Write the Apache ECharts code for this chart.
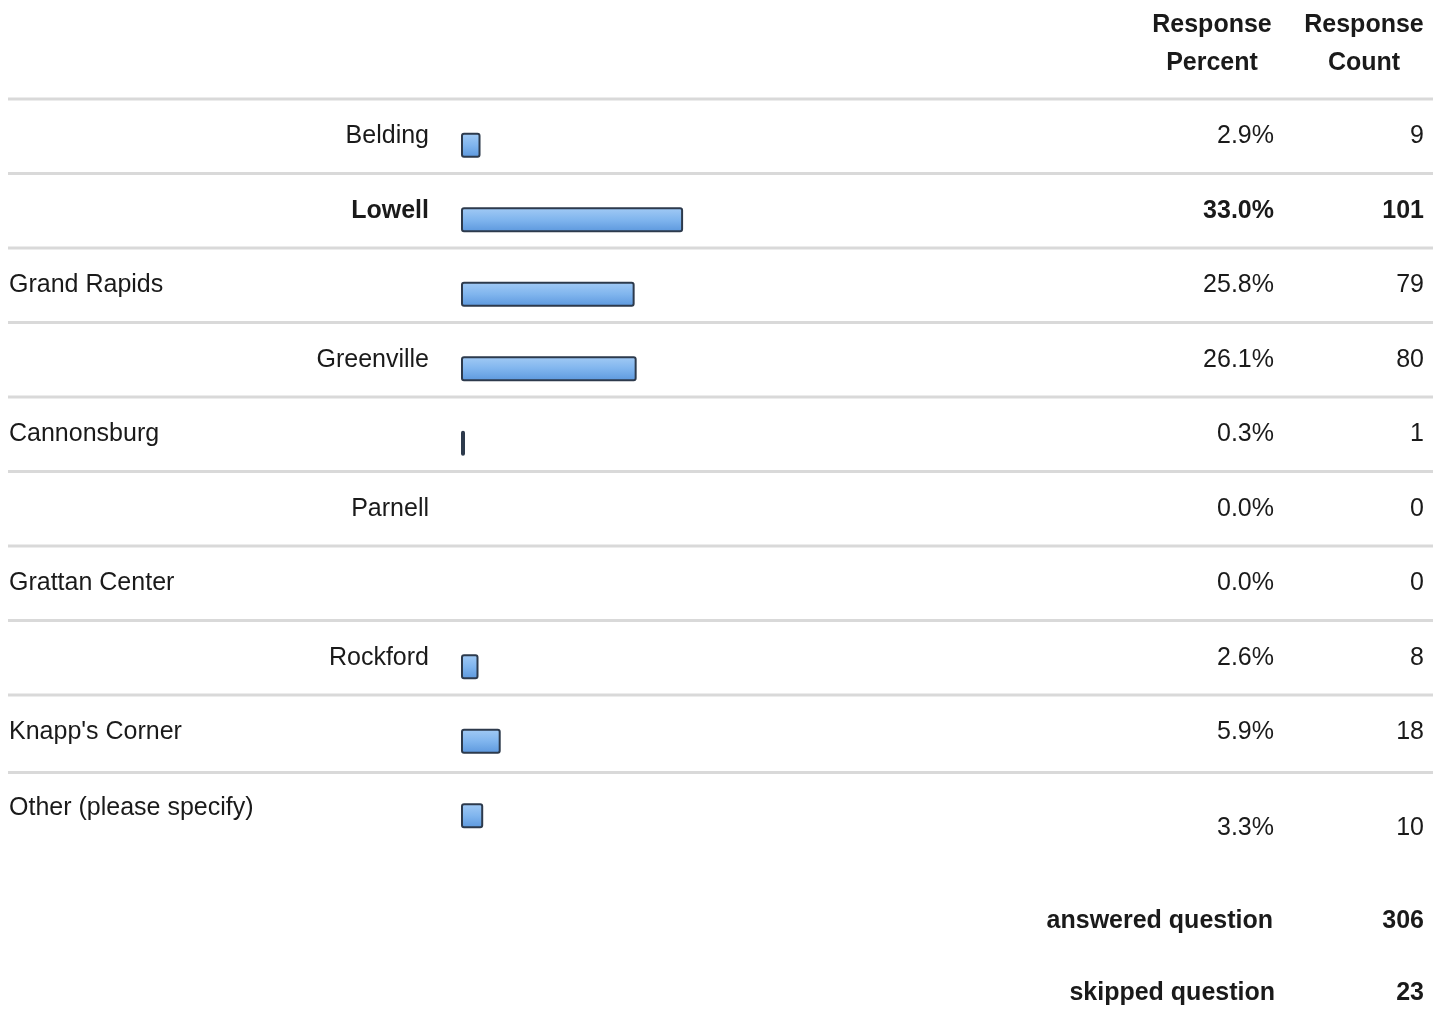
<!DOCTYPE html>
<html>
<head>
<meta charset="utf-8">
<script src="https://cdn.jsdelivr.net/npm/echarts@6/dist/echarts.min.js"></script>
<style>
  html, body { margin: 0; padding: 0; background: #ffffff; }
  #chart { width: 1443px; height: 1021px; }
</style>
</head>
<body>
<div id="chart"></div>
<script>
// ---- data ----
const categories = ['Belding', 'Lowell', 'Grand Rapids', 'Greenville', 'Cannonsburg',
  'Parnell', 'Grattan Center', 'Rockford', "Knapp's Corner", 'Other (please specify)'];
const percents = [2.9, 33.0, 25.8, 26.1, 0.3, 0.0, 0.0, 2.6, 5.9, 3.3];
const counts = [9, 101, 79, 80, 1, 0, 0, 8, 18, 10];
const headerPercent = ['Response', 'Percent'];
const headerCount = ['Response', 'Count'];
const answeredLabel = 'answered question';
const answeredCount = 306;
const skippedLabel = 'skipped question';
const skippedCount = 23;
const boldRow = 'Lowell';

// ---- layout / style (not data) ----
const labelAlign = ['right', 'right', 'left', 'right', 'left', 'right', 'left', 'right', 'left', 'left'];
const FONT_FAMILY = 'Liberation Sans';
const TEXT = '#1a1a1a';

const chart = echarts.init(document.getElementById('chart'), null, { renderer: 'canvas' });

const barData = percents.map(v => v === 0
  ? { value: v, itemStyle: { borderWidth: 0, opacity: 0 } }
  : v);

chart.setOption({
  backgroundColor: '#ffffff',
  animation: false,
  grid: { left: 461, width: 673, top: 108, height: 745 },
  xAxis: { type: 'value', min: 0, max: 100, show: false },
  yAxis: {
    type: 'category', data: categories, inverse: true,
    axisLine: { show: false }, axisTick: { show: false }, axisLabel: { show: false },
    splitLine: { show: false }
  },
  series: [{
    type: 'bar',
    data: barData,
    barWidth: 25,
    barMinHeight: 4,
    itemStyle: {
      color: new echarts.graphic.LinearGradient(0, 0, 0, 1, [
        { offset: 0, color: '#a3cbf5' },
        { offset: 0.5, color: '#80b5ee' },
        { offset: 1, color: '#5b97dd' }
      ]),
      borderColor: '#2d3a4c',
      borderWidth: 2,
      borderRadius: 2
    }
  }]
});

// ---- text & separators positioned from the category scale ----
const centers = categories.map(c => chart.convertToPixel({ yAxisIndex: 0 }, c));
const band = centers.length > 1 ? centers[1] - centers[0] : 74;
const half = band / 2;
const X_LEFT = 9, X_LABEL_R = 429, X_PCT = 1274, X_CNT = 1424;
const LINE_L = 8, LINE_R = 1433;

const elements = [];
function txt(s, x, y, align, bold) {
  elements.push({
    type: 'text', silent: true,
    style: {
      text: s, x: x, y: y, align: align, verticalAlign: 'middle',
      fontFamily: FONT_FAMILY, fontSize: 25, fontWeight: bold ? 'bold' : 'normal',
      fill: TEXT
    }
  });
}
function sep(y) {
  elements.push({
    type: 'line', silent: true,
    shape: { x1: LINE_L, y1: y, x2: LINE_R, y2: y },
    style: { stroke: '#d9d9d9', lineWidth: 3 }
  });
}

// header
const hCx1 = 1212, hCx2 = 1364;
const hTop = centers[0] - half - 11;
txt(headerPercent[0], hCx1, hTop - 72, 'center', true);
txt(headerPercent[1], hCx1, hTop - 34, 'center', true);
txt(headerCount[0], hCx2, hTop - 72, 'center', true);
txt(headerCount[1], hCx2, hTop - 34, 'center', true);

categories.forEach((c, i) => {
  const cy = centers[i];
  const last = i === categories.length - 1;
  sep(cy - half - (last ? 6 : 9));
  const bold = c === boldRow;
  const ly = last ? cy - 8 : cy - 9;
  const vy = last ? cy + 12 : cy - 9;
  if (labelAlign[i] === 'right') txt(c, X_LABEL_R, ly, 'right', bold);
  else txt(c, X_LEFT, ly, 'left', bold);
  txt(percents[i].toFixed(1) + '%', X_PCT, vy, 'right', bold);
  txt(String(counts[i]), X_CNT, vy, 'right', bold);
});

// footer
const lastC = centers[centers.length - 1];
txt(answeredLabel, X_PCT - 1, lastC + 105, 'right', true);
txt(String(answeredCount), X_CNT, lastC + 105, 'right', true);
txt(skippedLabel, X_PCT + 1, lastC + 177, 'right', true);
txt(String(skippedCount), X_CNT, lastC + 177, 'right', true);

chart.setOption({ graphic: { elements: elements } });
</script>
</body>
</html>
